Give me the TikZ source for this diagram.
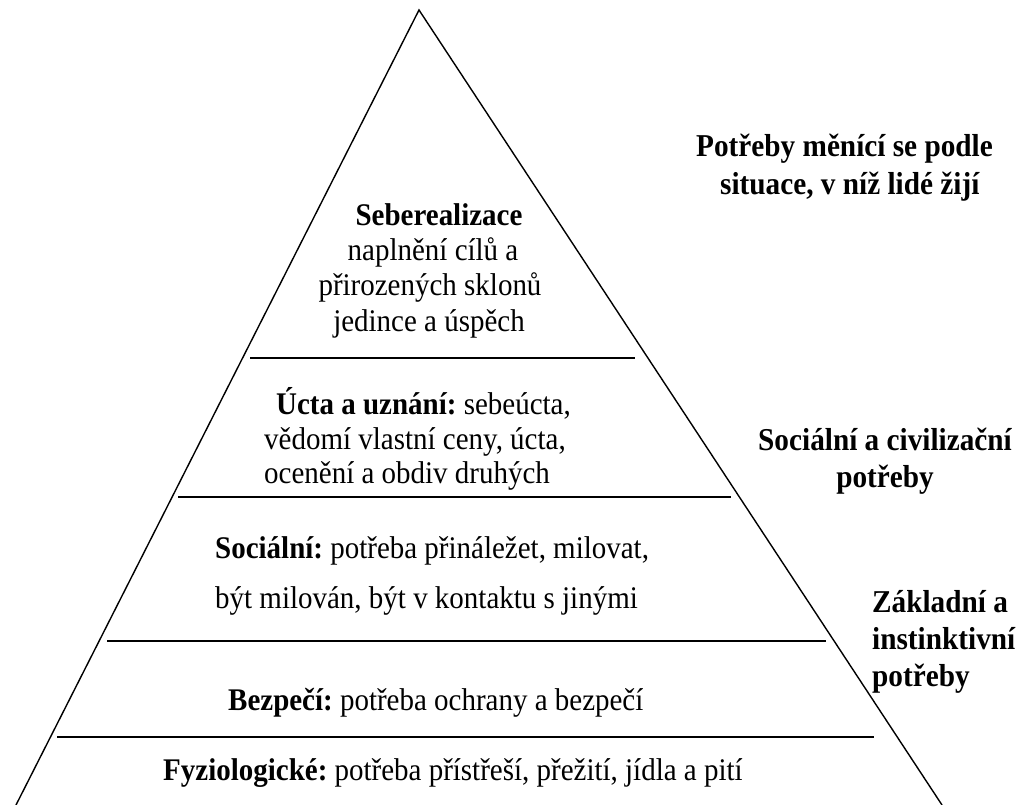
\documentclass[tikz,border=0pt]{standalone}
\usepackage{fontspec}
\setmainfont{Liberation Serif}[FakeStretch=0.92]
\frenchspacing
\begin{document}
\begin{tikzpicture}[x=1pt,y=-1pt,
  body/.style={inner sep=0pt, anchor=base west, font=\fontsize{31.5}{35}\selectfont},
  cbody/.style={inner sep=0pt, anchor=base, font=\fontsize{31.5}{35}\selectfont},
  side label/.style={inner sep=0pt, anchor=base west, font=\fontsize{31.8}{37}\selectfont\bfseries},
  cside label/.style={inner sep=0pt, anchor=base, font=\fontsize{31.8}{37}\selectfont\bfseries},
  edge line/.style={line width=1.4pt},
  tier line/.style={line width=2.2pt}]
\useasboundingbox (0,0) rectangle (1018,805);

% pyramid outline
\coordinate (apex) at (419,10);
\coordinate (baseL) at (16,805);
\coordinate (baseR) at (942,805);
\draw[edge line] (baseL) -- (apex) -- (baseR);

% tier separators
\coordinate (t1a) at (250,358); \coordinate (t1b) at (635,358);
\coordinate (t2a) at (178,497); \coordinate (t2b) at (731,497);
\coordinate (t3a) at (107,641); \coordinate (t3b) at (826,641);
\coordinate (t4a) at (57,737);  \coordinate (t4b) at (874,737);
\draw[tier line] (t1a) -- (t1b);
\draw[tier line] (t2a) -- (t2b);
\draw[tier line] (t3a) -- (t3b);
\draw[tier line] (t4a) -- (t4b);

% top tier
\node[cbody] (s1) at (439,226) {\textbf{Seberealizace}};
\node[cbody] (s2) at (433,261) {naplnění cílů a};
\node[cbody] (s3) at (430,296) {přirozených sklonů};
\node[cbody] (s4) at (429,331) {jedince a úspěch};

% esteem tier
\node[body] (u1) at (276,414) {\textbf{Úcta a uznání:} sebeúcta,};
\node[body] (u2) at (264,449) {vědomí vlastní ceny, úcta,};
\node[body] (u3) at (264,483) {ocenění a obdiv druhých};

% social tier
\node[body] (c1) at (215,558) {\textbf{Sociální:} potřeba přináležet, milovat,};
\node[body] (c2) at (215,608) {být milován, být v kontaktu s jinými};

% safety tier
\node[body] (b1) at (228,710) {\textbf{Bezpečí:} potřeba ochrany a bezpečí};

% physiological tier
\node[body] (f1) at (163,780) {\textbf{Fyziologické:} potřeba přístřeší, přežití, jídla a pití};

% labels on the right
\node[side label] (r1) at (696,157) {Potřeby měnící se podle};
\node[side label] (r2) at (720,195) {situace, v níž lidé žijí};
\node[cside label] (r3) at (885,450) {Sociální a civilizační};
\node[cside label] (r4) at (885,487) {potřeby};
\node[side label] (r5) at (872,612) {Základní a};
\node[side label] (r6) at (872,649) {instinktivní};
\node[side label] (r7) at (872,686) {potřeby};
\end{tikzpicture}
\end{document}
